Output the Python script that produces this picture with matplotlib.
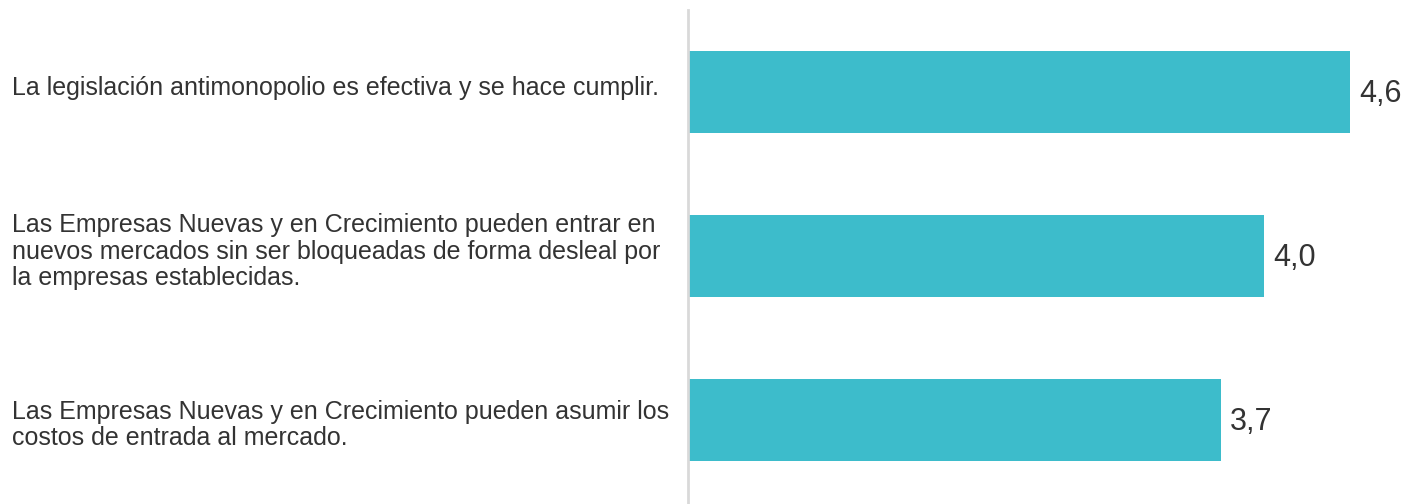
import matplotlib.pyplot as plt

# Data
labels = [
    "La legislación antimonopolio es efectiva y se hace cumplir.",
    "Las Empresas Nuevas y en Crecimiento pueden entrar en\nnuevos mercados sin ser bloqueadas de forma desleal por\nla empresas establecidas.",
    "Las Empresas Nuevas y en Crecimiento pueden asumir los\ncostos de entrada al mercado.",
]
values = [4.6, 4.0, 3.7]
value_text = ["4,6", "4,0", "3,7"]

# small vertical nudges (in bar units) so labels sit like the original
label_nudge = [-0.03, -0.03, 0.03]

plt.rcParams['font.family'] = ['Liberation Sans', 'DejaVu Sans']

fig = plt.figure(figsize=(14.19, 5.04), dpi=100)
ax = fig.add_axes([688 / 1419, 0, (1419 - 688) / 1419, 494 / 504])

px = 1 / 144.0  # data units per pixel along x
ypos = list(range(len(values)))
ax.barh(ypos, values, height=0.5, color='#3dbccb', zorder=2)

for y, v, t in zip(ypos, values, value_text):
    ax.text(v + 9 * px, y + 0.01, t, va='center', ha='left', fontsize=22, color='#333333')

for y, lab, dy in zip(ypos, labels, label_nudge):
    ax.text(-676 * px, y + dy, lab, va='center', ha='left',
            fontsize=18, color='#333333', linespacing=1.12, clip_on=False)

ax.set_xlim(0, 731 * px)
ax.set_ylim(2.51, -0.503)
ax.set_xticks([])
ax.set_yticks([])
for s in ['top', 'right', 'bottom']:
    ax.spines[s].set_visible(False)
ax.spines['left'].set_color('#d9d9d9')
ax.spines['left'].set_linewidth(2)

fig.savefig('out.png', dpi=100)
